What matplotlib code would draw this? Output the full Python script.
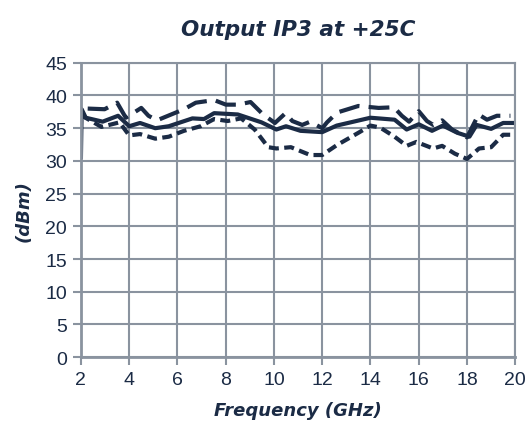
import matplotlib
matplotlib.use("Agg")
import matplotlib.pyplot as plt

# Long-dash trace (gaps come from the dash pattern)
f_long = [2.28, 2.98, 3.5, 3.86, 4.03, 4.5, 4.8, 5.15, 6.27, 6.76, 7.52, 8.01, 8.5, 9.03,
          9.55, 10.04, 10.48, 10.76, 11.17, 11.5, 12.0, 12.2, 12.62, 13.5, 14.34, 14.97,
          15.3, 15.6, 16.0, 16.34, 16.6, 16.97, 17.38, 18.0, 18.48, 18.83, 19.24, 19.8]
p_long = [38.0, 37.9, 38.9, 36.6, 37.0, 38.1, 36.9, 36.2, 37.9, 38.9, 39.3, 38.6, 38.6, 39.0,
          37.1, 35.8, 37.3, 36.1, 35.5, 36.0, 35.0, 35.9, 37.4, 38.4, 38.1, 38.2,
          36.9, 36.0, 37.6, 36.1, 35.5, 36.2, 34.8, 33.6, 37.1, 36.3, 36.9, 36.9]

# Solid trace
f_solid = [2.0, 2.03, 2.2, 2.9, 3.54, 4.0, 4.45, 5.08, 5.64, 6.62, 7.1, 7.52, 8.5, 9.48,
           10.1, 10.5, 11.1, 12.0, 12.6, 14.0, 15.0, 15.5, 16.0, 16.55, 17.0, 17.6,
           18.1, 18.4, 19.0, 19.5, 20.0]
p_solid = [30.6, 37.9, 36.6, 36.0, 36.9, 35.3, 35.8, 35.0, 35.3, 36.5, 36.4, 37.3, 37.1, 35.9,
           34.8, 35.3, 34.6, 34.4, 35.4, 36.6, 36.3, 34.8, 35.6, 34.6, 35.4, 34.3,
           33.7, 35.5, 34.9, 35.8, 35.8]

# Short-dash trace
f_short = [2.0, 2.85, 3.6, 4.0, 4.45, 5.08, 5.64, 6.27, 6.96, 7.52, 8.08, 8.64, 9.2, 9.76,
           10.1, 10.7, 11.5, 12.0, 12.6, 13.5, 14.0, 14.4, 15.0, 15.5, 15.9, 16.6,
           16.97, 17.5, 18.0, 18.5, 19.0, 19.5, 20.0]
p_short = [37.0, 35.2, 35.9, 33.9, 34.1, 33.4, 33.7, 34.6, 35.3, 36.4, 36.1, 36.5, 34.8, 32.1,
           31.9, 32.1, 30.9, 30.9, 32.4, 34.3, 35.4, 35.1, 33.7, 32.3, 32.9, 31.9,
           32.3, 31.1, 30.3, 31.9, 32.1, 34.0, 34.0]

navy = "#1b2b45"
grid_c = "#8a939f"
font = ["DejaVu Sans"]

fig = plt.figure(figsize=(5.29, 4.31), dpi=100)
ax = fig.add_axes([0.153, 0.169, 0.821, 0.683])

ax.plot(f_long, p_long, color=navy, lw=3, dashes=(5, 2.2), solid_capstyle="butt")
ax.plot(f_solid, p_solid, color=navy, lw=3)
ax.plot(f_short, p_short, color=navy, lw=3, dashes=(2.4, 1.3))

ax.set_xlim(2, 20)
ax.set_ylim(0, 45)
ax.set_xticks(range(2, 21, 2))
ax.set_yticks(range(0, 46, 5))
ax.grid(True, color=grid_c, lw=1.5)
ax.set_axisbelow(True)
for s in ["top", "right"]:
    ax.spines[s].set_color(grid_c)
    ax.spines[s].set_linewidth(1.5)
for s in ["left", "bottom"]:
    ax.spines[s].set_color(grid_c)
    ax.spines[s].set_linewidth(2)
ax.tick_params(direction="out", length=6, width=1.5, color=grid_c,
               labelsize=14, labelcolor=navy, pad=4)
for lab in ax.get_xticklabels() + ax.get_yticklabels():
    lab.set_family(["Liberation Sans", "DejaVu Sans"])

ax.set_title("Output IP3 at +25C", fontsize=15.5, fontweight="bold", style="italic",
             color=navy, family=font, pad=20)
ax.set_xlabel("Frequency (GHz)", fontsize=13, fontweight="bold", style="italic",
              color=navy, family=font, labelpad=9)
ax.set_ylabel("(dBm)", fontsize=13, fontweight="bold", style="italic",
              color=navy, family=font, labelpad=9)

fig.savefig("out.png", dpi=100)
